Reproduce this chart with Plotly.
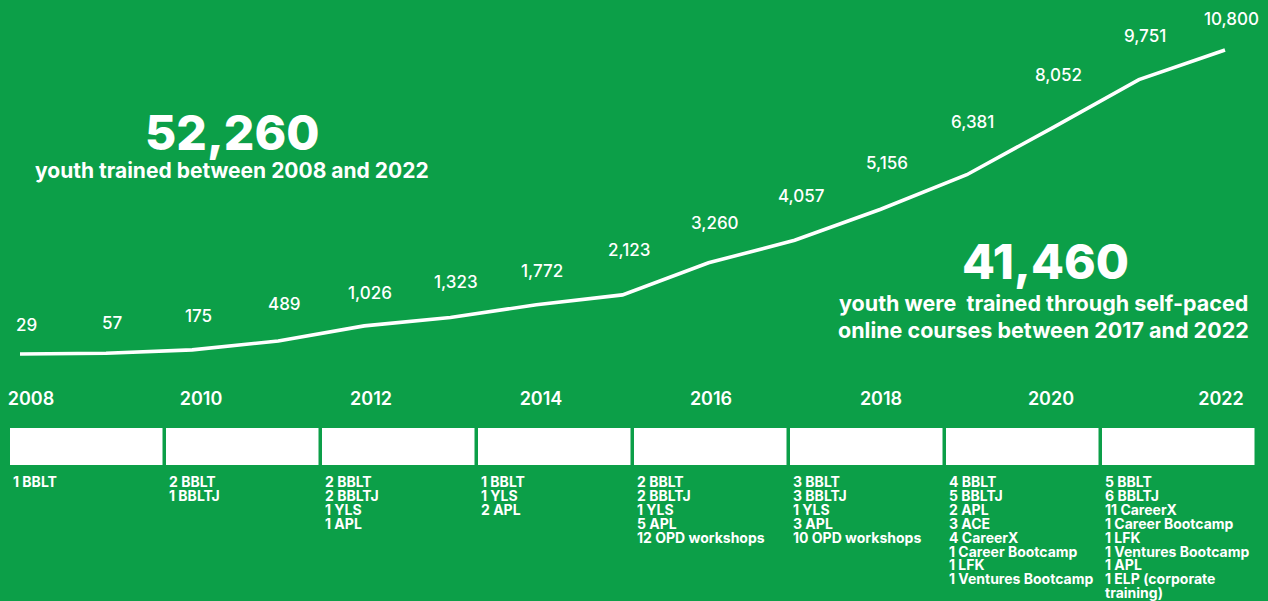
import plotly.graph_objects as go

# ---------------- data ----------------
years = list(range(2008, 2023))
trained = [29, 57, 175, 489, 1026, 1323, 1772, 2123, 3260, 4057, 5156, 6381, 8052, 9751, 10800]

tick_years = [2008, 2010, 2012, 2014, 2016, 2018, 2020, 2022]

programs = [
    ["1 BBLT"],
    ["2 BBLT", "1 BBLTJ"],
    ["2 BBLT", "2 BBLTJ", "1 YLS", "1 APL"],
    ["1 BBLT", "1 YLS", "2 APL"],
    ["2 BBLT", "2 BBLTJ", "1 YLS", "5 APL", "12 OPD workshops"],
    ["3 BBLT", "3 BBLTJ", "1 YLS", "3 APL", "10 OPD workshops"],
    ["4 BBLT", "5 BBLTJ", "2 APL", "3 ACE", "4 CareerX", "1 Career Bootcamp",
     "1 LFK", "1 Ventures Bootcamp"],
    ["5 BBLT", "6 BBLTJ", "11 CareerX", "1 Career Bootcamp", "1 LFK",
     "1 Ventures Bootcamp", "1 APL", "1 ELP (corporate", "training)"],
]

total_number = "52,260"
total_text = "youth trained between 2008 and 2022"
online_number = "41,460"
online_text = ["youth were&nbsp; trained through self-paced",
               "online courses between 2017 and 2022"]

# ---------------- style ----------------
W, H = 1268, 601
PLOT_H = 380          # plot area height in px (top margin 0)
BG = "#0C9F48"
WHITE = "#FFFFFF"
FONT = "Inter, 'Open Sans', Roboto, sans-serif"

UNITS_PER_PX = 35.43


def py(pix_y):
    """pixel y (from top of page) -> paper y"""
    return (PLOT_H - pix_y) / PLOT_H


def px(pix_x):
    return pix_x / W


fig = go.Figure()
fig.add_trace(go.Scatter(
    x=years, y=trained, mode="lines",
    line=dict(color=WHITE, width=3.6),
    hoverinfo="skip", showlegend=False,
))
# invisible helper trace that carries the year-label axis
fig.add_trace(go.Scatter(
    x=tick_years, y=[trained[years.index(t)] for t in tick_years],
    mode="markers", marker=dict(opacity=0), xaxis="x2",
    hoverinfo="skip", showlegend=False,
))

annotations = []

# value labels above the line (lifted a bit more where the line climbs steeply)
for i, (yr, v) in enumerate(zip(years, trained)):
    if i + 1 < len(trained):
        rise = (trained[i + 1] - v) / UNITS_PER_PX
        lift = 29 + 0.5 * rise
    else:
        lift = 31
    annotations.append(dict(
        x=yr, y=v, xref="x", yref="y", text=f"{v:,}", showarrow=False,
        xshift=6, yshift=lift, yanchor="middle", xanchor="center",
        font=dict(family=FONT, size=17, color=WHITE, weight=500),
    ))

# headline numbers
annotations += [
    dict(x=px(232), y=py(132), xref="paper", yref="paper", text=total_number,
         showarrow=False, xanchor="center", yanchor="middle",
         font=dict(family=FONT, size=48, color=WHITE, weight=800)),
    dict(x=px(232), y=py(171), xref="paper", yref="paper", text=total_text,
         showarrow=False, xanchor="center", yanchor="middle",
         font=dict(family=FONT, size=21, color=WHITE, weight=700)),
    dict(x=px(1045), y=py(262), xref="paper", yref="paper", text=online_number,
         showarrow=False, xanchor="center", yanchor="middle",
         font=dict(family=FONT, size=48, color=WHITE, weight=800)),
]
for j, line in enumerate(online_text):
    annotations.append(dict(
        x=px(1043), y=py(303 + 27 * j), xref="paper", yref="paper", text=line,
        showarrow=False, xanchor="center", yanchor="middle",
        font=dict(family=FONT, size=21.5, color=WHITE, weight=700)))

# program boxes and lists
shapes = []
for i, plist in enumerate(programs):
    left = 10 + i * 156
    shapes.append(dict(
        type="rect", xref="paper", yref="paper",
        x0=px(left), x1=px(left + 152.5), y0=py(465), y1=py(428),
        fillcolor=WHITE, line=dict(width=0), layer="above",
    ))
    for j, item in enumerate(plist):
        annotations.append(dict(
            x=px(left + 1), y=py(481.5 + 13.9 * j), xref="paper", yref="paper",
            text=item, showarrow=False, xanchor="left", yanchor="middle",
            font=dict(family=FONT, size=14, color=WHITE, weight=700),
        ))

# year-label axis: 2008 label centred near x=31px, 2022 label near x=1221px
lab_per_year = (1221 - 31) / 14

fig.update_layout(
    width=W, height=H,
    margin=dict(l=0, r=0, t=0, b=H - PLOT_H, pad=0),
    paper_bgcolor=BG, plot_bgcolor=BG,
    showlegend=False,
    xaxis=dict(
        range=[2008 - 20 / 86.07, 2022 + 43 / 86.07],
        visible=False, fixedrange=True,
    ),
    xaxis2=dict(
        overlaying="x", side="bottom",
        range=[2008 - 31 / lab_per_year, 2022 + (W - 1221) / lab_per_year],
        showgrid=False, zeroline=False, showline=False,
        tickmode="array", tickvals=tick_years, ticktext=[str(t) for t in tick_years],
        ticks="", ticklabelstandoff=6,
        tickfont=dict(family=FONT, size=18, color=WHITE, weight=600),
        fixedrange=True,
    ),
    yaxis=dict(
        range=[29 - 26 * UNITS_PER_PX, 29 + 354 * UNITS_PER_PX],
        visible=False, fixedrange=True,
    ),
    annotations=annotations,
    shapes=shapes,
)

fig.write_html("out.html", config={"displayModeBar": False},
               post_script="document.body.style.margin='0';")
